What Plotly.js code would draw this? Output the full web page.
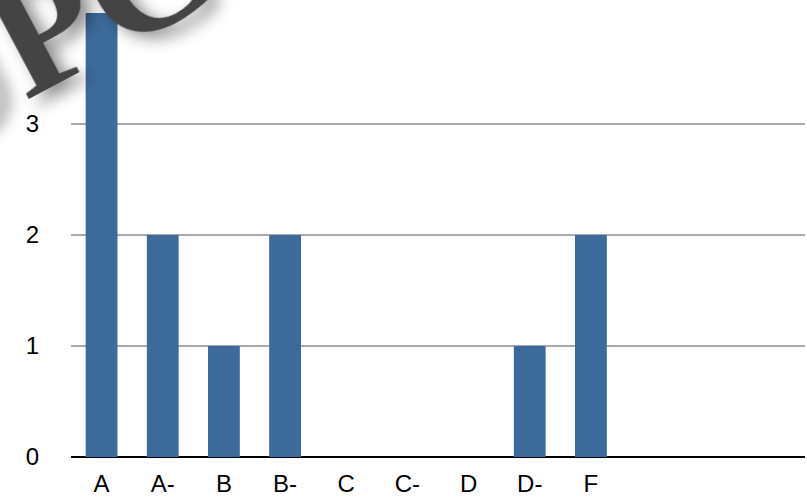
<!DOCTYPE html>
<html>
<head>
<meta charset="utf-8">
<script src="https://cdn.plot.ly/plotly-3.0.1.min.js"></script>
<style>
html,body{margin:0;padding:0;background:#fff;}
#chart{width:807px;height:500px;}
.annotation-text{filter: drop-shadow(6px 10px 8px rgba(0,0,0,0.45));}
</style>
</head>
<body>
<div id="chart"></div>
<script>
var grades = ["A", "A-", "B", "B-", "C", "C-", "D", "D-", "F"];
var counts = [4, 2, 1, 2, 0, 0, 0, 1, 2];
var yTicks = [0, 1, 2, 3, 4];
var yTickLabels = ["0", "1", "2", "3", ""];
var watermark = "UPCOMING";

var xIdx = grades.map(function(g, i){ return i; });

var trace = {
  type: 'bar',
  x: xIdx,
  y: counts,
  width: 0.52,
  marker: {color: '#3c6b9b', line: {width: 0}},
  hoverinfo: 'none'
};

var tickFont = {family: '"Liberation Sans", Arial, sans-serif', size: 24, color: '#000'};

var layout = {
  width: 807,
  height: 500,
  margin: {l: 71, r: 2, t: 13, b: 43},
  paper_bgcolor: '#ffffff',
  plot_bgcolor: '#ffffff',
  showlegend: false,
  font: tickFont,
  xaxis: {
    range: [-0.5, 11.5],
    tickvals: xIdx,
    ticktext: grades,
    tickfont: tickFont,
    showgrid: false,
    zeroline: false,
    showline: false,
    ticks: '',
    ticklabelstandoff: 10,
    fixedrange: true
  },
  yaxis: {
    range: [0, 4],
    tickvals: yTicks,
    ticktext: yTickLabels,
    tickfont: tickFont,
    showgrid: true,
    gridcolor: '#aaaaaa',
    gridwidth: 2,
    zeroline: true,
    zerolinecolor: '#000000',
    zerolinewidth: 2,
    showline: false,
    ticks: '',
    ticklabelstandoff: 31,
    fixedrange: true
  },
  annotations: [{
    xref: 'paper', yref: 'paper',
    x: 0.328, y: 1.29,
    xanchor: 'center', yanchor: 'middle',
    text: watermark,
    showarrow: false,
    textangle: -28,
    font: {family: '"Liberation Serif", "DejaVu Serif", serif', size: 168, color: '#444444', weight: 'bold'}
  }]
};

Plotly.newPlot('chart', [trace], layout, {displayModeBar: false, staticPlot: true});
</script>
</body>
</html>
